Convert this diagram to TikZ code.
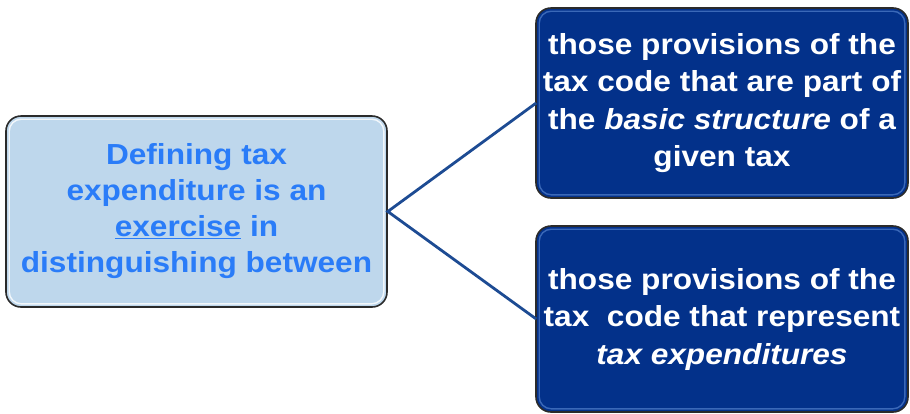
\documentclass[tikz,border=0pt]{standalone}
\usepackage{fontspec}
\setmainfont{Liberation Sans}[FakeStretch=1.09]
\definecolor{lightfill}{HTML}{BED7EC}
\definecolor{lighttext}{HTML}{2A7CF8}
\definecolor{navyfill}{HTML}{03318A}
\definecolor{navyedge}{HTML}{3A68B8}
\definecolor{linkcol}{HTML}{1D4B93}
\definecolor{rimcol}{HTML}{2B2B2B}
\tikzset{
  box/.style={draw=rimcol, line width=1.6pt, rounded corners=15pt, align=center,
    inner sep=0pt},
  lightbox/.style={box, fill=lightfill, text=lighttext, font=\bfseries\fontsize{29}{36}\selectfont},
  darkbox/.style={box, fill=navyfill, text=white, font=\bfseries\fontsize{29}{37.5}\selectfont},
  glow/.style={line width=1.4pt, rounded corners=12pt},
  link/.style={draw=linkcol, line width=2.8pt}
}
\begin{document}
\begin{tikzpicture}[x=1pt,y=-1pt]
\useasboundingbox (0,0) rectangle (910,413);
\node[lightbox, minimum width=381pt, minimum height=191pt] (def) at (196.5,211.5)
  {Defining tax\\expenditure is an\\\underline{exercise} in\\distinguishing between};
\node[darkbox, minimum width=372pt, minimum height=190pt] (basic) at (722,103)
  {those provisions of the\\tax code that are part of\\the \textit{basic structure} of a\\given tax};
\node[darkbox, minimum width=372pt, minimum height=186pt] (expend) at (722,319)
  {those provisions of the\\tax\ \ code that represent\\\textit{tax expenditures}};
\draw[glow, white, opacity=0.8] ([shift={(4,4)}]def.north west) rectangle ([shift={(-4,-4)}]def.south east);
\draw[glow, navyedge] ([shift={(4,4)}]basic.north west) rectangle ([shift={(-4,-4)}]basic.south east);
\draw[glow, navyedge] ([shift={(4,4)}]expend.north west) rectangle ([shift={(-4,-4)}]expend.south east);
\draw[link] ([xshift=1pt]basic.west) -- (def.east) -- ([xshift=1pt]expend.west);
\end{tikzpicture}
\end{document}
